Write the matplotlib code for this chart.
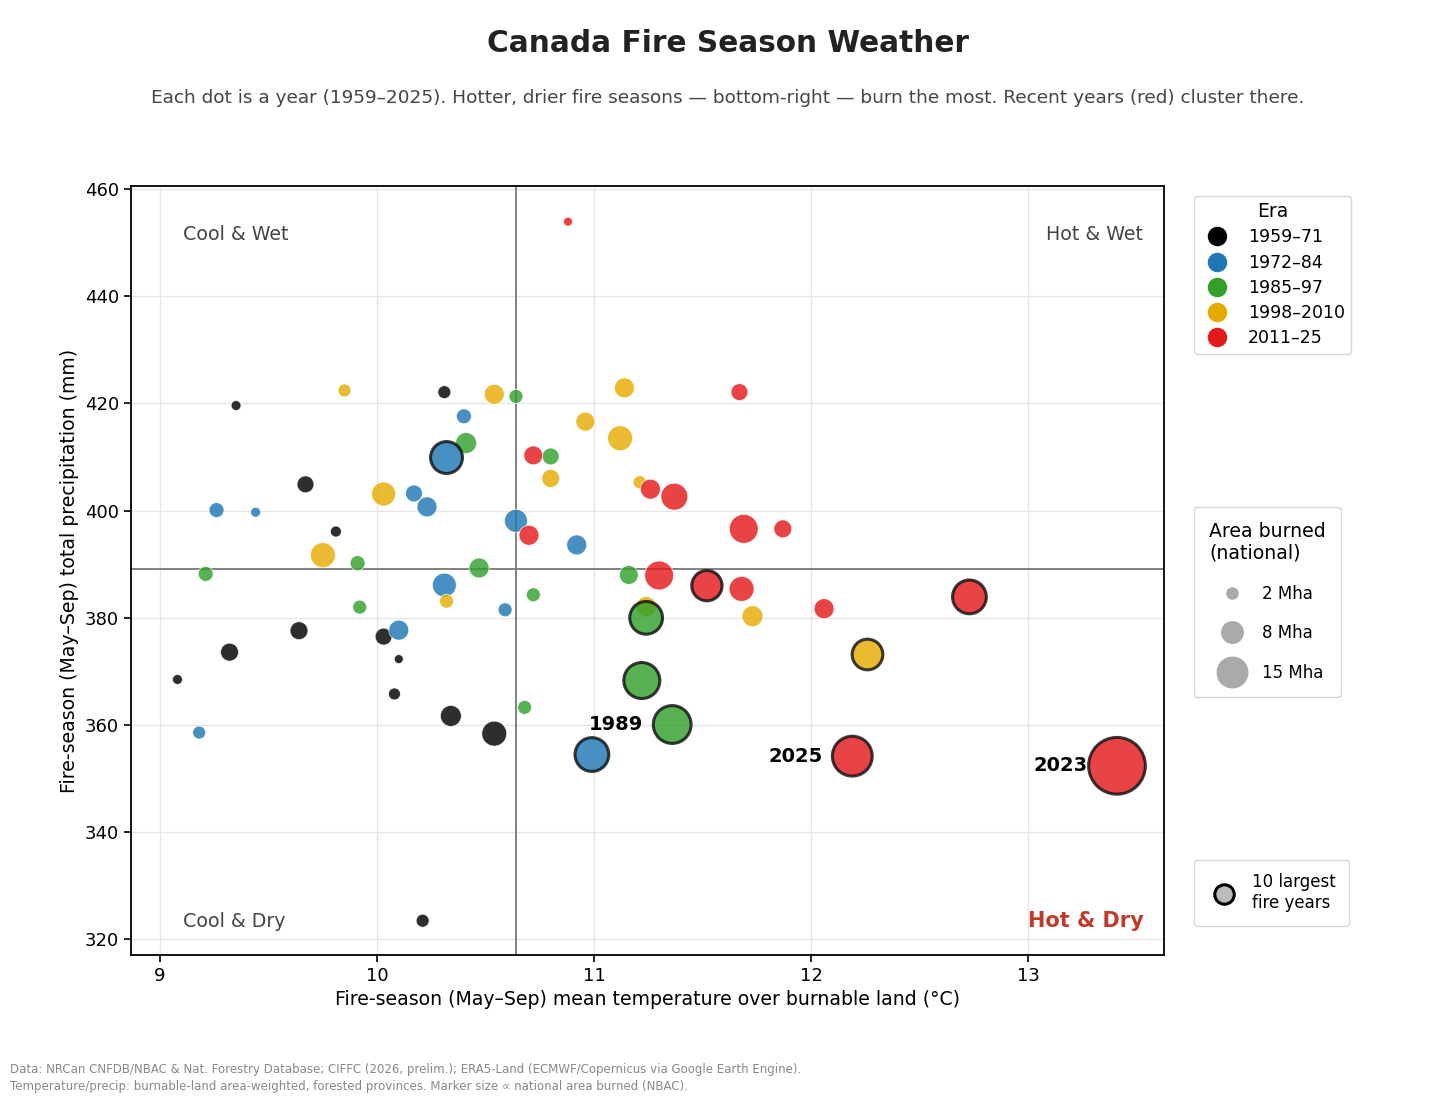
import numpy as np
import matplotlib
matplotlib.use("Agg")
import matplotlib.pyplot as plt
from matplotlib.lines import Line2D

# era groups: mean temp (°C), precip (mm), area burned (Mha)
era_names = ['1959–71', '1972–84', '1985–97', '1998–2010', '2011–25']
era_colors = ['#000000', '#1f78b4', '#33a02c', '#e6ab02', '#e31a1c']

temp_5971 = [9.35, 10.31, 9.67, 9.81, 9.64, 9.32, 9.08, 10.03, 10.10, 10.08, 10.34, 10.54, 10.21]
prec_5971 = [419.6, 422.1, 404.9, 396.1, 377.6, 373.6, 368.5, 376.5, 372.3, 365.8, 361.7, 358.4, 323.5]
area_5971 = [0.44, 0.75, 1.28, 0.54, 1.44, 1.44, 0.44, 1.28, 0.36, 0.64, 1.96, 2.78, 0.75]

temp_7284 = [10.40, 10.32, 10.17, 10.23, 9.26, 9.44, 10.64, 10.92, 10.31, 10.59, 10.10, 9.18, 10.99]
prec_7284 = [417.6, 409.9, 403.2, 400.7, 400.1, 399.7, 398.1, 393.6, 386.1, 381.5, 377.7, 358.6, 354.5]
area_7284 = [1.0, 4.55, 1.28, 1.78, 1.0, 0.44, 2.35, 1.78, 2.56, 0.87, 1.78, 0.75, 5.1]

temp_8597 = [10.64, 10.41, 10.80, 9.91, 9.21, 10.47, 11.16, 9.92, 10.72, 11.24, 11.22, 10.68, 11.36]
prec_8597 = [421.3, 412.6, 410.1, 390.2, 388.2, 389.3, 388.0, 382.0, 384.3, 380.0, 368.3, 363.3, 360.1]
area_8597 = [0.87, 1.96, 1.28, 1.0, 1.0, 1.78, 1.6, 0.87, 0.87, 4.8, 5.8, 0.87, 6.4]

temp_9810 = [9.85, 10.54, 11.14, 10.96, 11.12, 10.03, 10.80, 11.21, 9.75, 10.32, 11.24, 11.73, 12.26]
prec_9810 = [422.4, 421.7, 422.9, 416.6, 413.5, 403.1, 406.0, 405.3, 391.7, 383.1, 382.1, 380.3, 373.2]
area_9810 = [0.75, 1.78, 1.78, 1.6, 2.78, 2.56, 1.44, 0.75, 2.78, 0.87, 1.78, 1.96, 4.2]

temp_1125 = [10.88, 11.67, 10.72, 11.26, 11.37, 10.70, 11.69, 11.87, 11.30, 11.52, 11.68, 12.06, 12.73, 12.19, 13.41]
prec_1125 = [453.9, 422.1, 410.3, 404.0, 402.6, 395.4, 396.6, 396.6, 387.9, 386.0, 385.4, 381.7, 383.9, 354.2, 352.4]
area_1125 = [0.36, 1.28, 1.6, 1.78, 3.24, 1.78, 3.74, 1.44, 3.74, 4.1, 2.78, 1.78, 5.1, 7.1, 14.4]

labelled_years = ['1989', '2025', '2023']
labelled_temp = [11.36, 12.19, 13.41]
labelled_prec = [360.1, 354.2, 352.4]

median_temp = 10.64
median_prec = 389.1

temps = [temp_5971, temp_7284, temp_8597, temp_9810, temp_1125]
precs = [prec_5971, prec_7284, prec_8597, prec_9810, prec_1125]
areas = [area_5971, area_7284, area_8597, area_9810, area_1125]

all_area = np.concatenate([np.array(a) for a in areas])
cutoff = np.sort(all_area)[-10]

def msize(a):
    return 116 * np.asarray(a)

fig = plt.figure(figsize=(14.56, 10.99), dpi=100)
ax = fig.add_axes([0.090, 0.131, 0.7095, 0.6998])

for t, p, a, c in zip(temps, precs, areas, era_colors):
    t = np.array(t); p = np.array(p); a = np.array(a)
    big = a >= cutoff
    ax.scatter(t[~big], p[~big], s=msize(a[~big]), c=c, alpha=0.82,
               edgecolors='white', linewidths=0.6, zorder=3)
    ax.scatter(t[big], p[big], s=msize(a[big]), c=c, alpha=0.82,
               edgecolors='#111111', linewidths=2.2, zorder=4)

for yr, t, p in zip(labelled_years, labelled_temp, labelled_prec):
    ax.annotate(yr, (t, p), xytext=(-21, 0), textcoords='offset points',
                ha='right', va='center', fontsize=14, fontweight='bold', zorder=5)

ax.axvline(median_temp, color='#777777', lw=1.3, zorder=2)
ax.axhline(median_prec, color='#777777', lw=1.3, zorder=2)

ax.set_xlim(8.866, 13.627)
ax.set_ylim(317.1, 460.56)
ax.set_xticks([9, 10, 11, 12, 13])
ax.set_yticks(np.arange(320, 461, 20))
ax.grid(True, color='#e6e6e6', lw=1, zorder=0)
ax.set_axisbelow(True)
ax.tick_params(labelsize=13, length=5, width=1.2)
for s in ax.spines.values():
    s.set_linewidth(1.3)

ax.set_xlabel('Fire-season (May–Sep) mean temperature over burnable land (°C)', fontsize=13.6)
ax.set_ylabel('Fire-season (May–Sep) total precipitation (mm)', fontsize=13.6)

qcol = '#444444'
ax.text(0.050, 0.937, 'Cool & Wet', transform=ax.transAxes, fontsize=13.7, color=qcol, va='center', ha='left')
ax.text(0.980, 0.937, 'Hot & Wet', transform=ax.transAxes, fontsize=13.7, color=qcol, va='center', ha='right')
ax.text(0.050, 0.044, 'Cool & Dry', transform=ax.transAxes, fontsize=13.7, color=qcol, va='center', ha='left')
ax.text(0.980, 0.044, 'Hot & Dry', transform=ax.transAxes, fontsize=15, color='#c0392b',
        fontweight='bold', va='center', ha='right')

# legends
era_handles = [Line2D([], [], marker='o', ls='', color=c, markersize=13) for c in era_colors]
leg1 = ax.legend(era_handles, era_names, title='Era', loc='upper left',
                 bbox_to_anchor=(1.029, 0.987), borderaxespad=0, fontsize=12.5,
                 title_fontsize=13.5, borderpad=0.35, labelspacing=0.42,
                 handletextpad=0.75, fancybox=True)
ax.add_artist(leg1)

size_vals = ['2 Mha', '8 Mha', '15 Mha']
size_ms = [8, 15.5, 22]
size_handles = [Line2D([], [], marker='o', ls='', color='#aaaaaa', markersize=m) for m in size_ms]
leg2 = ax.legend(size_handles, size_vals, title='Area burned\n(national)', loc='upper left',
                 bbox_to_anchor=(1.029, 0.5826), borderaxespad=0, fontsize=12,
                 title_fontsize=13.6, borderpad=0.9, labelspacing=1.3,
                 handlelength=2.76, handletextpad=0.42, fancybox=True)
leg2._legend_box.align = 'left'
ax.add_artist(leg2)

top_handle = [Line2D([], [], marker='o', ls='', markerfacecolor='#bbbbbb',
                     markeredgecolor='black', markeredgewidth=2.2, markersize=14)]
ax.legend(top_handle, ['10 largest\nfire years'], loc='upper left',
          bbox_to_anchor=(1.029, 0.1235), borderaxespad=0, fontsize=12,
          borderpad=0.8, handletextpad=0.7, fancybox=True)

fig.text(0.5, 0.960, 'Canada Fire Season Weather', ha='center', va='center',
         fontsize=21.3, fontweight='bold', color='#222222')
fig.text(0.5, 0.911, 'Each dot is a year (1959–2025). Hotter, drier fire seasons — bottom-right — burn the most. '
         'Recent years (red) cluster there.', ha='center', va='center', fontsize=13.3, color='#444444')

fig.text(0.007, 0.027, 'Data: NRCan CNFDB/NBAC & Nat. Forestry Database; CIFFC (2026, prelim.); '
         'ERA5-Land (ECMWF/Copernicus via Google Earth Engine).', fontsize=8.5, color='#888888', va='center')
fig.text(0.007, 0.011, 'Temperature/precip: burnable-land area-weighted, forested provinces. '
         'Marker size ∝ national area burned (NBAC).', fontsize=8.5, color='#888888', va='center')

fig.savefig('out.png', dpi=100)
